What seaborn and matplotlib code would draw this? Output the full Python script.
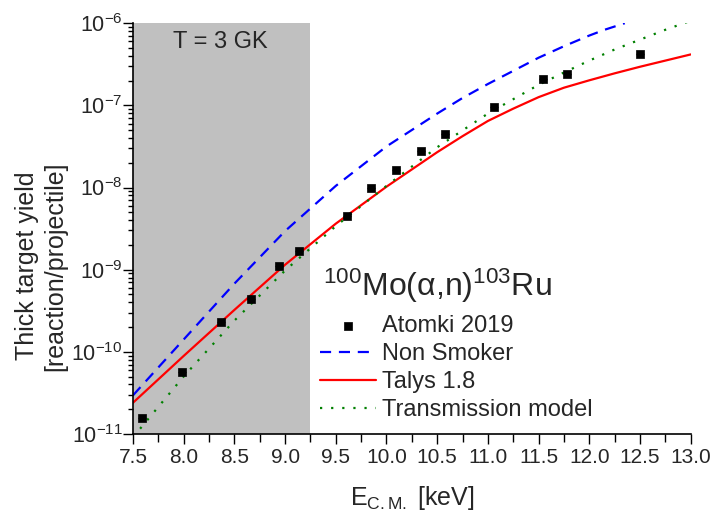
import numpy as np
import matplotlib
matplotlib.use("Agg")
import matplotlib.pyplot as plt
import seaborn as sns
from matplotlib.ticker import MultipleLocator, LogLocator, NullFormatter, FormatStrFormatter

# measured yields (Atomki 2019)
e_exp = [7.59, 7.98, 8.37, 8.66, 8.94, 9.14, 9.61, 9.85, 10.09, 10.34, 10.58, 11.06, 11.54, 11.78, 12.50]
y_exp = [1.55e-11, 5.7e-11, 2.29e-10, 4.43e-10, 1.11e-9, 1.70e-9, 4.49e-9, 9.75e-9,
         1.64e-8, 2.75e-8, 4.47e-8, 9.6e-8, 2.08e-7, 2.44e-7, 4.27e-7]
e_err = [0.04] * len(e_exp)

# model curves, log10 of the yield
e_nonsmoker = [7.5, 8.0, 8.5, 9.0, 9.5, 10.0, 10.5, 10.75, 11.0, 11.25, 11.5, 11.75, 12.0, 12.15, 12.35]
log_nonsmoker = [-10.53, -9.85, -9.17, -8.53, -7.98, -7.50, -7.10, -6.91, -6.74, -6.58, -6.42,
                 -6.28, -6.15, -6.08, -6.0]

e_talys = [7.5, 8.0, 8.5, 9.0, 9.5, 10.0, 10.5, 10.75, 11.0, 11.25, 11.5, 11.75, 12.0, 12.25,
           12.5, 12.75, 13.0]
log_talys = [-10.62, -10.05, -9.49, -8.94, -8.44, -7.99, -7.57, -7.375, -7.19, -7.04, -6.90,
             -6.785, -6.695, -6.61, -6.53, -6.455, -6.38]

e_trans = [7.5, 8.0, 8.5, 9.0, 9.5, 10.0, 10.5, 11.0, 11.5, 11.75, 12.0, 12.25, 12.5, 12.75, 13.0]
log_trans = [-11.04, -10.30, -9.62, -9.01, -8.47, -7.98, -7.51, -7.10, -6.75, -6.60, -6.455,
             -6.32, -6.20, -6.08, -5.97]

sns.set_style("ticks")
plt.rcParams["font.family"] = ["Liberation Sans", "DejaVu Sans"]
plt.rcParams["mathtext.fontset"] = "custom"
plt.rcParams["mathtext.rm"] = "Liberation Sans"
plt.rcParams["mathtext.it"] = "Liberation Sans:italic"
plt.rcParams["mathtext.default"] = "regular"

fig = plt.figure(figsize=(7.15, 5.16), dpi=100)
ax = fig.add_axes([0.186, 0.159, 0.780, 0.796])

ax.axvspan(7.5, 9.25, color="#c0c0c0", lw=0, zorder=0)

sns.lineplot(x=e_nonsmoker, y=10 ** np.array(log_nonsmoker), ax=ax, color="#0000ff",
             lw=1.6, ls=(0, (5, 3.5)), label="Non Smoker")
sns.lineplot(x=e_talys, y=10 ** np.array(log_talys), ax=ax, color="#ff0000",
             lw=1.6, label="Talys 1.8")
sns.lineplot(x=e_trans, y=10 ** np.array(log_trans), ax=ax, color="#008000",
             lw=1.6, ls=(0, (1, 4)), label="Transmission model")
ax.errorbar(e_exp, y_exp, xerr=e_err, fmt="none", ecolor="black", elinewidth=1, capsize=0, zorder=4)
sns.scatterplot(x=e_exp, y=y_exp, ax=ax, marker="s", s=30, color="black",
                edgecolor="black", linewidth=0.5, zorder=5, label="Atomki 2019")

ax.set_yscale("log")
ax.set_xlim(7.5, 13.0)
ax.set_ylim(1e-11, 1e-6)

ax.xaxis.set_major_locator(MultipleLocator(0.5))
ax.xaxis.set_minor_locator(MultipleLocator(0.25))
ax.xaxis.set_major_formatter(FormatStrFormatter("%.1f"))
ax.yaxis.set_major_locator(LogLocator(base=10, numticks=10))
ax.yaxis.set_minor_locator(LogLocator(base=10, subs=np.arange(2, 10), numticks=20))
ax.yaxis.set_minor_formatter(NullFormatter())

ax.tick_params(which="major", direction="out", length=7, width=1, color="black")
ax.tick_params(which="minor", direction="out", length=3.5, width=1, color="black")
ax.tick_params(axis="x", which="minor", length=6)
ax.tick_params(axis="x", which="major", labelsize=15, pad=3)
ax.tick_params(axis="y", which="major", labelsize=15.5, pad=0.5)

for side in ["top", "right"]:
    ax.spines[side].set_visible(False)
for side in ["left", "bottom"]:
    ax.spines[side].set_linewidth(1.2)
    ax.spines[side].set_color("black")

ax.set_xlabel(r"E$_{C.M.}$ [keV]", fontsize=18, labelpad=12)
ax.set_ylabel("Thick target yield\n[reaction/projectile]", fontsize=18)
ax.yaxis.set_label_coords(-0.118, 0.409)

ax.text(8.36, 5.9e-7, "T = 3 GK", fontsize=17, ha="center", va="center")

# legend title drawn as its own text so the gap matches
ax.text(0.34, 0.36, r"$^{100}$Mo(α,n)$^{103}$Ru", transform=ax.transAxes,
        fontsize=23, ha="left", va="center")

h, lab = ax.get_legend_handles_labels()
order = [lab.index("Atomki 2019"), lab.index("Non Smoker"), lab.index("Talys 1.8"), lab.index("Transmission model")]
leg = ax.legend([h[i] for i in order], [lab[i] for i in order], loc="upper left",
                bbox_to_anchor=(0.335, 0.29), frameon=False, fontsize=17,
                handlelength=2.4, handletextpad=0.25, labelspacing=0.26,
                borderpad=0, borderaxespad=0)

fig.savefig("out.png", dpi=100)
